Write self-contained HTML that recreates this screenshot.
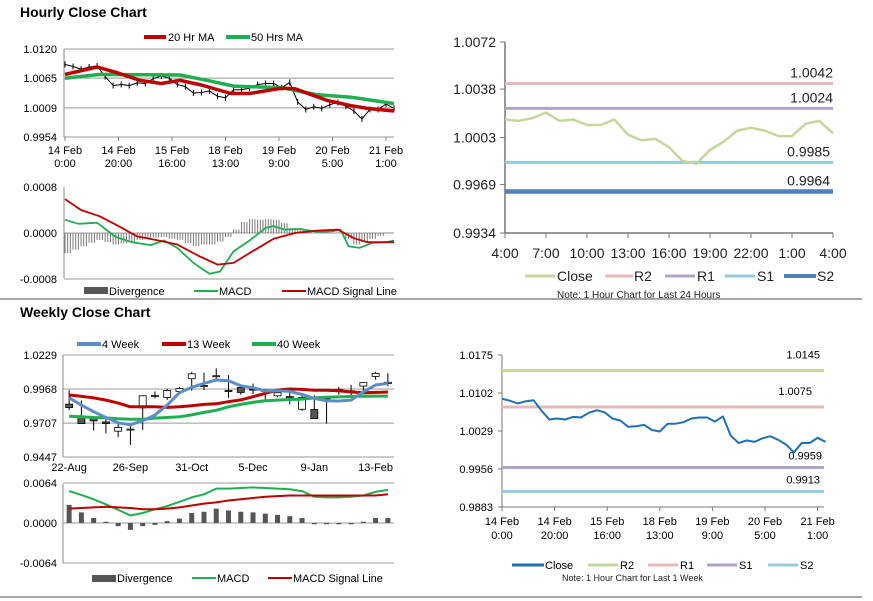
<!DOCTYPE html>
<html><head><meta charset="utf-8"><style>
html,body{margin:0;padding:0;background:#fff;}
svg{display:block;font-family:"Liberation Sans",Arial,sans-serif;}
.t{font-size:11px;fill:#000;}
.tr{font-size:14px;fill:#222;font-family:"Liberation Sans Narrow","Liberation Sans",sans-serif;}
</style></head><body>
<svg id="s" width="873" height="601" viewBox="0 0 873 601">
<text x="20" y="17" font-size="14" font-weight="bold">Hourly Close Chart</text>
<text x="20" y="317" font-size="14" font-weight="bold">Weekly Close Chart</text>
<line x1="0" y1="299" x2="862" y2="299" stroke="#888" stroke-width="1.5"/>
<line x1="0" y1="597" x2="862" y2="597" stroke="#888" stroke-width="1.5"/>
<g>
<line x1="144" y1="37" x2="166" y2="37" stroke="#c00000" stroke-width="4"/><text class="t" x="168" y="41">20 Hr MA</text>
<line x1="226" y1="37" x2="250" y2="37" stroke="#1eb050" stroke-width="4"/><text class="t" x="251" y="41">50 Hrs MA</text>
</g>
<g>
<rect x="84" y="287" width="24" height="7" fill="#555"/><text class="t" x="109" y="295">Divergence</text>
<line x1="194" y1="291" x2="218" y2="291" stroke="#1eb050" stroke-width="2"/><text class="t" x="219" y="295">MACD</text>
<line x1="282" y1="291" x2="306" y2="291" stroke="#c00000" stroke-width="2"/><text class="t" x="307" y="295">MACD Signal Line</text>
</g>
<g>
<line x1="77" y1="344" x2="101" y2="344" stroke="#5b8dc9" stroke-width="4"/><text class="t" x="102" y="348">4 Week</text>
<line x1="162" y1="344" x2="186" y2="344" stroke="#c00000" stroke-width="4"/><text class="t" x="187" y="348">13 Week</text>
<line x1="252" y1="344" x2="276" y2="344" stroke="#1eb050" stroke-width="4"/><text class="t" x="277" y="348">40 Week</text>
</g>
<g>
<rect x="92" y="575" width="24" height="7" fill="#555"/><text class="t" x="117" y="582">Divergence</text>
<line x1="192" y1="578" x2="216" y2="578" stroke="#1eb050" stroke-width="2"/><text class="t" x="217" y="582">MACD</text>
<line x1="268" y1="578" x2="292" y2="578" stroke="#c00000" stroke-width="2"/><text class="t" x="293" y="582">MACD Signal Line</text>
</g>
<g>
<line x1="525" y1="276" x2="555" y2="276" stroke="#c4d79b" stroke-width="3"/><text class="tr" x="557" y="281">Close</text>
<line x1="605" y1="276" x2="633" y2="276" stroke="#e6b9b8" stroke-width="3"/><text class="tr" x="634" y="281">R2</text>
<line x1="665" y1="276" x2="695" y2="276" stroke="#b3a2c7" stroke-width="3"/><text class="tr" x="697" y="281">R1</text>
<line x1="725" y1="276" x2="755" y2="276" stroke="#93cddd" stroke-width="3"/><text class="tr" x="757" y="281">S1</text>
<line x1="784" y1="276" x2="816" y2="276" stroke="#4f81bd" stroke-width="4"/><text class="tr" x="817" y="281">S2</text>
<text x="557" y="298" font-size="10" fill="#222" font-family="Liberation Sans Narrow, Liberation Sans, sans-serif">Note: 1 Hour Chart for Last 24 Hours</text>
</g>
<g>
<line x1="512" y1="565" x2="544" y2="565" stroke="#1f6fb5" stroke-width="3"/><text class="t" x="545" y="569">Close</text>
<line x1="588" y1="565" x2="618" y2="565" stroke="#c4d79b" stroke-width="3"/><text class="t" x="620" y="569">R2</text>
<line x1="648" y1="565" x2="678" y2="565" stroke="#e6b9b8" stroke-width="3"/><text class="t" x="680" y="569">R1</text>
<line x1="707" y1="565" x2="737" y2="565" stroke="#b3a2c7" stroke-width="3"/><text class="t" x="739" y="569">S1</text>
<line x1="768" y1="565" x2="798" y2="565" stroke="#93cddd" stroke-width="3"/><text class="t" x="800" y="569">S2</text>
<text x="562" y="581" font-size="9" fill="#222">Note: 1 Hour Chart for Last 1 Week</text>
</g>
</svg>
<script>
// ---- data ----
const hourSteps = [0,3,6,9,12,15,18,21,24,27,30,33,36,39,42,45,48,51,54,57,60,63,66,69,72,75,78,81,84,87,90,93,96,99,102,105,108,111,114,117,120,123];
const hourlyClose = [1.0091,1.0087,1.0082,1.0086,1.0088,1.0068,1.0051,1.0053,1.0051,1.0056,1.0055,1.0064,1.0069,1.0065,1.0053,1.0049,1.0037,1.0038,1.0041,1.0031,1.0028,1.0043,1.0043,1.0046,1.0053,1.0055,1.0055,1.0047,1.0057,1.0020,1.0006,1.0011,1.0008,1.0015,1.0019,1.0012,1.0003,0.9988,1.0006,1.0006,1.0016,1.0008];
const hourlyDivergence = [-.00035,-.00029,-.00023,-.00017,-.00012,-.00016,-.0002,-.00018,-.00015,-.00012,-.0001,-.00008,-.00007,-.0001,-.00012,-.00018,-.00023,-.0002,-.0002,-.00015,-.00007,.00006,.00019,.00024,.00023,.00024,.00023,.00017,.00009,.00005,.00004,0,.00001,0,.00001,-.0001,-.0002,-.00016,-.0001,-.00005,.00001,.00001];
const ma20Hours = [0,12,19,28,36,43,51,62,69,81,86,98,107,113,123];
const ma20Values = [1.0072,1.0086,1.0076,1.0061,1.0055,1.0061,1.0052,1.0036,1.0036,1.0046,1.0045,1.0023,1.0013,1.0008,1.0003];
const ma50Hours = [0,13,43,53,63,81,94,107,123];
const ma50Values = [1.0065,1.0072,1.0071,1.0061,1.0050,1.0047,1.0034,1.0029,1.0017];
const macdHours = [0,5,12,19,25,32,37,42,48,54,58,63,69,75,78,82,88,94,100,103,106,110,115,120,123];
const macdValues = [.00023,.00016,.00018,-.00007,-.00016,-.00021,-.00013,-.00026,-.00052,-.00071,-.00067,-.00032,-.00013,.00009,.00012,.00006,.00007,.00002,.00003,.00006,-.00023,-.00026,-.00017,-.00016,-.00013];
const signalHours = [0,6,13,20,27,35,42,50,57,63,70,78,86,94,102,108,113,123];
const signalValues = [.00059,.0004,.00029,.00012,-.00006,-.00013,-.0002,-.0004,-.00055,-.00052,-.00032,-.0001,0,.00004,.00006,-.00009,-.00016,-.00016];
const hourlyTickHours = [0,20,40,60,80,100,120];
const hourlyTickLabels = [["14 Feb","0:00"],["14 Feb","20:00"],["15 Feb","16:00"],["18 Feb","13:00"],["19 Feb","9:00"],["20 Feb","5:00"],["21 Feb","1:00"]];
const hourlyPriceTicks = [1.0120,1.0065,1.0009,0.9954];
const hourlyMacdTicks = [0.0008,0,-0.0008];

const weekOpen = [.9852,.9755,.9750,.9716,.9645,.9658,.9824,.9910,.9904,.9950,1.0047,.9990,1.0065,.9957,.9980,.9967,.9957,.9916,.9905,.9813,.9811,.9900,.9960,.9950,.9991,1.0065,1.0010];
const weekHigh = [.9960,.9880,.9755,.9750,.9700,.9700,.9920,.9950,.9970,.9985,1.0100,1.0093,1.0126,1.0075,.9990,1.0010,.9968,.9968,.9950,.9925,.9920,.9900,.9985,1.0000,1.0020,1.0100,1.0090];
const weekLow = [.9806,.9703,.9650,.9627,.9600,.9540,.9655,.9895,.9885,.9945,.9955,.9960,1.0040,.9900,.9925,.9930,.9870,.9905,.9850,.9800,.9740,.9703,.9925,.9920,.9940,1.0040,.9990];
const weekClose = [.9826,.9703,.9724,.9703,.9673,.9661,.9916,.9918,.9957,.9972,1.0085,.9995,1.0070,.9950,.9942,.9962,.9950,.9940,.9910,.9904,.9742,.9898,.9965,.9955,1.0017,1.0088,1.0020];
const ma4w = [.9901,.9845,.9794,.9750,.9709,.9694,.9725,.9768,.9845,.9940,.9981,1.0011,1.0037,1.0032,.9993,.9978,.9953,.9955,.9950,.9927,.9896,.9878,.9876,.9883,.9947,.9999,1.0011];
const ma13w = [.9922,.9912,.9900,.9883,.9860,.9832,.9832,.9832,.9827,.9832,.9840,.9850,.9855,.9871,.9885,.9909,.9935,.9960,.9968,.9965,.9958,.9958,.9955,.9945,.9940,.9942,.9945];
const ma40w = [.9760,.9755,.9750,.9747,.9740,.9737,.9737,.9745,.9750,.9755,.9770,.9789,.9805,.9832,.9850,.9866,.9878,.9883,.9888,.9891,.9900,.9905,.9908,.9911,.9913,.9914,.9914];
const weekMacd = [.0051,.0045,.0038,.0030,.0021,.0012,.0016,.0022,.0027,.0034,.0041,.0046,.0055,.0055,.0056,.0057,.0056,.0055,.0054,.0051,.0042,.0041,.0041,.0042,.0044,.0050,.0053];
const weekSignal = [.0023,.0024,.0025,.0026,.0025,.0024,.0022,.0022,.0023,.0025,.0028,.0031,.0033,.0036,.0038,.0040,.0042,.0043,.0044,.0044,.0044,.0044,.0044,.0044,.0044,.0044,.0046];
const weekDivergence = [.0029,.0017,.0008,.0002,-.0005,-.0011,-.0005,-.0003,.0003,.0007,.0016,.0018,.0023,.0020,.0018,.0017,.0015,.0013,.0011,.0008,-.0002,-.0002,-.0002,-.0002,.0002,.0008,.0008];
const weekTickIdx = [0,5,10,15,20,25];
const weekTickLabels = ["22-Aug","26-Sep","31-Oct","5-Dec","9-Jan","13-Feb"];
const weekPriceTicks = [1.0229,0.9968,0.9707,0.9447];
const weekMacdTicks = [0.0064,0,-0.0064];

const day24Close = [1.0016,1.0015,1.0017,1.0021,1.0015,1.0016,1.0012,1.0012,1.0016,1.0005,1.0001,1.0002,0.9996,0.9986,0.9984,0.9994,1.0000,1.0008,1.0010,1.0008,1.0004,1.0004,1.0013,1.0015,1.0006];
const day24TickLabels = ["4:00","7:00","10:00","13:00","16:00","19:00","22:00","1:00","4:00"];
const day24PriceTicks = [1.0072,1.0038,1.0003,0.9969,0.9934];
const day24LevelNames = ["R2","R1","S1","S2"];
const day24Levels = [1.0042,1.0024,0.9985,0.9964];
const weekLevelNames = ["R2","R1","S1","S2"];
const weekLevels = [1.0145,1.0075,0.9959,0.9913];
const weekPivotTicks = [1.0175,1.0102,1.0029,0.9956,0.9883];

// ---- helpers ----
const S = document.getElementById('s');
const NS = 'http://www.w3.org/2000/svg';
function mk(tag, parent){ const e = document.createElementNS(NS, tag); (parent||S).appendChild(e); return e; }
function ln(p,x1,y1,x2,y2,c,w){ const e=mk('line',p); e.setAttribute('x1',x1);e.setAttribute('y1',y1);e.setAttribute('x2',x2);e.setAttribute('y2',y2);e.setAttribute('stroke',c);e.setAttribute('stroke-width',w); return e; }
function pl(p,xs,ys,c,w){ const e=mk('polyline',p); e.setAttribute('points',xs.map((x,i)=>x.toFixed(1)+','+ys[i].toFixed(1)).join(' ')); e.setAttribute('fill','none'); e.setAttribute('stroke',c); e.setAttribute('stroke-width',w); e.setAttribute('stroke-linejoin','round'); return e; }
function tx(p,x,y,s,cls,anchor){ const e=mk('text',p); e.setAttribute('x',x); e.setAttribute('y',y); e.setAttribute('class',cls||'t'); e.setAttribute('text-anchor',anchor||'start'); e.textContent=s; return e; }
function grp(){ return mk('g'); }
function fmt(v,d){ return v.toFixed(d); }

// ===== Hourly price panel =====
const hx = h => 65 + h*(321/120);
const hy = v => 49 + (1.0120 - v)/0.0166*88;
let g = grp();


hourlyPriceTicks.forEach((v,i)=>{
  const y=hy(v);
  const gl=ln(g,64,y,394,y,'#999',1);
  
  
  const t=tx(g,57,y+4,fmt(v,4),'t','end');
  
  
});
ln(g,64,49,64,137,'#888',1);
hourlyTickHours.forEach((h,i)=>{
  ln(g,hx(h),137,hx(h),141,'#888',1);
  const t1=tx(g,hx(h),154,hourlyTickLabels[i][0],'t','middle');
  
  
  const t2=tx(g,hx(h),167,hourlyTickLabels[i][1],'t','middle');
  
  
});
hourSteps.forEach((h,i)=>{
  const b=ln(g,hx(h),hy(hourlyClose[i])-3,hx(h),hy(hourlyClose[i])+3,'#000',1);
  
  
});
let p = pl(g,hourSteps.map(hx),hourlyClose.map(hy),'#000',1);


p = pl(g,ma50Hours.map(hx),ma50Values.map(hy),'#1eb050',3.5);


p = pl(g,ma20Hours.map(hx),ma20Values.map(hy),'#c00000',3.5);



// ===== Hourly MACD =====
const my = v => 233 - v/0.0008*46;
g = grp();


hourlyMacdTicks.forEach(v=>{
  ln(g,64,my(v),394,my(v),v===0.0008?'none':'#999',1);
  const t=tx(g,57,my(v)+4,fmt(v,4),'t','end');
  
  
});
ln(g,64,187,64,278,'#888',1);
hourSteps.forEach((h,i)=>{
  for(let k=0;k<3;k++){
    const x=hx(h+k);
    if(x>394) break;
    const b=ln(g,x,my(0),x,my(hourlyDivergence[i]),'#777',1);
    
    
  }
});
p = pl(g,macdHours.map(hx),macdValues.map(my),'#1eb050',1.8);


p = pl(g,signalHours.map(hx),signalValues.map(my),'#c00000',1.8);



// ===== Weekly price =====
const wx = i => 63 + (i+0.5)*(331/27);
const wy = v => 355 + (1.0229 - v)/0.0782*102;
g = grp();


weekPriceTicks.forEach(v=>{
  ln(g,63,wy(v),394,wy(v),'#999',1);
  const t=tx(g,57,wy(v)+4,fmt(v,4),'t','end');
  
  
});
ln(g,63,355,63,457,'#888',1);
weekTickIdx.forEach((idx,i)=>{
  const t=tx(g,wx(idx),471,weekTickLabels[i],'t','middle');
  
  
});
weekOpen.forEach((o,i)=>{
  const c=weekClose[i], x=wx(i);
  const w=ln(g,x,wy(weekHigh[i]),x,wy(weekLow[i]),'#000',1);
  
  
  const r=mk('rect',g);
  const top=wy(Math.max(o,c)), bot=wy(Math.min(o,c));
  r.setAttribute('x',x-3.5); r.setAttribute('y',top); r.setAttribute('width',7); r.setAttribute('height',Math.max(1,bot-top));
  r.setAttribute('fill', c>=o ? '#fff':'#555'); r.setAttribute('stroke','#000'); r.setAttribute('stroke-width',0.8);
  
  
});
const idx27 = weekOpen.map((_,i)=>i);
p = pl(g,idx27.map(wx),ma40w.map(wy),'#1eb050',3);


p = pl(g,idx27.map(wx),ma13w.map(wy),'#c00000',3);


p = pl(g,idx27.map(wx),ma4w.map(wy),'#5b8dc9',3);



// ===== Weekly MACD =====
const wmy = v => 523 - v/0.0064*40;
g = grp();


weekMacdTicks.forEach(v=>{
  ln(g,63,wmy(v),394,wmy(v),'#999',1);
  const t=tx(g,57,wmy(v)+4,fmt(v,4),'t','end');
  
  
});
ln(g,63,484,63,563,'#888',1);
weekDivergence.forEach((v,i)=>{
  const r=mk('rect',g);
  const y0=wmy(0), y1=wmy(v);
  r.setAttribute('x',wx(i)-2.5); r.setAttribute('y',Math.min(y0,y1)); r.setAttribute('width',5); r.setAttribute('height',Math.abs(y1-y0));
  r.setAttribute('fill','#555');
  
  
});
p = pl(g,idx27.map(wx),weekMacd.map(wmy),'#1eb050',2);


p = pl(g,idx27.map(wx),weekSignal.map(wmy),'#c00000',2);



// ===== 24h pivot chart =====
const dx = h => 505 + h*(328/24);
const dy = v => 42 + (1.0072 - v)/0.0138*191;
const dayColors = ['#e6b9b8','#b3a2c7','#93cddd','#4f81bd'];
const dayWidths = [3,3,3,4.5];
g = grp();


ln(g,505,42,505,233,'#777',1.5);
ln(g,505,233,833,233,'#777',1.5);
day24PriceTicks.forEach(v=>{
  ln(g,500,dy(v),505,dy(v),'#777',1);
  const t=tx(g,496,dy(v)+5,fmt(v,4),'tr','end');
  
  
});
day24TickLabels.forEach((s,i)=>{
  const x=dx(i*3);
  ln(g,x,233,x,238,'#777',1);
  const t=tx(g,x,258,s,'tr','middle');
  
  
});
day24Levels.forEach((v,i)=>{
  const l=ln(g,505,dy(v),833,dy(v),dayColors[i],dayWidths[i]);
  
  
  const t=tx(g,i<2?833:830,dy(v)-6,fmt(v,4),'tr','end');
  
  
});
p = pl(g,day24Close.map((_,i)=>dx(i)),day24Close.map(dy),'#c4d79b',2.5);



// ===== Week pivot chart =====
const px = h => 502 + h*(52.6/20);
const py = v => 355 + (1.0175 - v)/0.0292*152;
const wkColors = ['#c4d79b','#e6b9b8','#b3a2c7','#93cddd'];
const wkLabelX = [820,812,822,820];
const wkLabelDy = [-12,-12,-8,-8];
g = grp();


ln(g,502,355,502,507,'#777',1);
ln(g,502,507,824,507,'#777',1);
weekPivotTicks.forEach(v=>{
  ln(g,498,py(v),502,py(v),'#777',1);
  const t=tx(g,493,py(v)+4,fmt(v,4),'t','end');
  
  
});
hourlyTickHours.forEach((h,i)=>{
  ln(g,px(h),507,px(h),511,'#777',1);
  const t1=tx(g,px(h),525,hourlyTickLabels[i][0],'t','middle');
  
  
  const t2=tx(g,px(h),539,hourlyTickLabels[i][1],'t','middle');
  
  
});
weekLevels.forEach((v,i)=>{
  const l=ln(g,502,py(v),824,py(v),wkColors[i],3);
  
  
  const t=tx(g,wkLabelX[i],py(v)+wkLabelDy[i],fmt(v,4),'t','end');
  
  
});
p = pl(g,hourSteps.map(px),hourlyClose.map(py),'#1f6fb5',2);


</script>
</body></html>
